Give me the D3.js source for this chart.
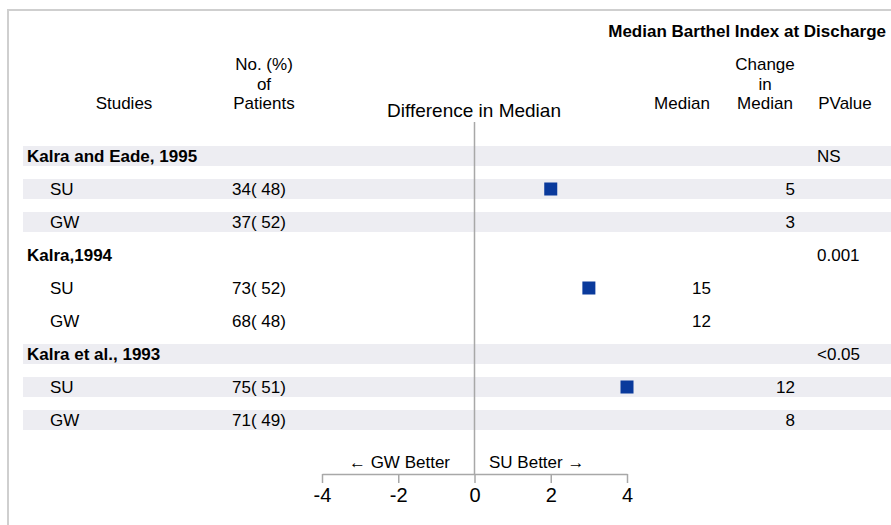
<!DOCTYPE html>
<html>
<head>
<meta charset="utf-8">
<script src="https://cdn.jsdelivr.net/npm/d3@7"></script>
<style>
  html, body { margin: 0; padding: 0; background: #fff; }
  svg { display: block; font-family: "Liberation Sans", Arial, sans-serif; }
</style>
</head>
<body>
<svg id="chart" width="891" height="525"></svg>
<script>
// Study-level data
const studyNames = ["Kalra and Eade, 1995", "Kalra,1994", "Kalra et al., 1993"];
const pValues = ["NS", "0.001", "<0.05"];
const groupLabels = ["SU", "GW"];
const suCount = [34, 73, 75];
const suPct = [48, 52, 51];
const gwCount = [37, 68, 71];
const gwPct = [52, 48, 49];
const diffMedian = [2, 3, 4];          // SU minus GW difference in median
const medianSU = [null, 15, null];
const medianGW = [null, 12, null];
const changeSU = [5, null, 12];
const changeGW = [3, null, 8];
const xTicks = [-4, -2, 0, 2, 4];

// Flatten into display rows: study header, SU row, GW row
const rows = [];
studyNames.forEach((name, i) => {
  rows.push({ type: "study", label: name, p: pValues[i], band: i % 2 === 0 });
  rows.push({ type: "group", label: groupLabels[0], n: suCount[i], pct: suPct[i],
              diff: diffMedian[i], median: medianSU[i], change: changeSU[i], band: i % 2 === 0 });
  rows.push({ type: "group", label: groupLabels[1], n: gwCount[i], pct: gwPct[i],
              diff: null, median: medianGW[i], change: changeGW[i], band: i % 2 === 0 });
});

const svg = d3.select("#chart");
const W = 891, H = 525;
const FS = 17;

const y = d3.scalePoint().domain(d3.range(rows.length)).range([156, 420]);
const rowH = 20;
const x = d3.scaleLinear().domain([-4, 4]).range([322, 627]);

// Outer frame (top and left edges)
svg.append("path")
  .attr("d", `M8,${H} L8,10 L${W},10`)
  .attr("fill", "none").attr("stroke", "#cfcfcf").attr("stroke-width", 2);

// Alternating row bands
svg.append("g").selectAll("rect")
  .data(rows.map((r, i) => ({ ...r, i })).filter(r => r.band))
  .join("rect")
  .attr("x", 23).attr("width", W - 23)
  .attr("y", d => y(d.i) - rowH / 2).attr("height", rowH)
  .attr("fill", "#ededf2");

// Title
svg.append("text")
  .attr("x", 886).attr("y", 37)
  .attr("text-anchor", "end").attr("font-weight", "bold").attr("font-size", FS)
  .text("Median Barthel Index at Discharge");

// Column headers
const hdr = svg.append("g").attr("font-size", FS).attr("fill", "#000").attr("text-anchor", "middle");
function multiLine(cx, lines, lastY, size) {
  lines.forEach((t, k) => {
    hdr.append("text").attr("x", cx).attr("y", lastY - (lines.length - 1 - k) * 19.5)
      .attr("font-size", size || FS).text(t);
  });
}
multiLine(124, ["Studies"], 109);
multiLine(264, ["No. (%)", "of", "Patients"], 109);
multiLine(474, ["Difference in Median"], 117, 19);
multiLine(682, ["Median"], 109);
multiLine(765, ["Change", "in", "Median"], 109);
multiLine(845, ["PValue"], 109);

// Reference line at zero
svg.append("line")
  .attr("x1", x(0)).attr("x2", x(0))
  .attr("y1", 122).attr("y2", 474)
  .attr("stroke", "#a8a8a8").attr("stroke-width", 1.5);

// Row text
const body = svg.append("g").attr("font-size", FS).attr("fill", "#000");
rows.forEach((r, i) => {
  const cy = y(i) + 6;
  if (r.type === "study") {
    body.append("text").attr("x", 27).attr("y", cy).attr("font-weight", "bold").text(r.label);
    body.append("text").attr("x", 817).attr("y", cy).text(r.p);
  } else {
    body.append("text").attr("x", 50).attr("y", cy).text(r.label);
    body.append("text").attr("x", 232).attr("y", cy).text(`${r.n}( ${r.pct})`);
    if (r.median != null)
      body.append("text").attr("x", 711).attr("y", cy).attr("text-anchor", "end").text(r.median);
    if (r.change != null)
      body.append("text").attr("x", 795).attr("y", cy).attr("text-anchor", "end").text(r.change);
  }
});

// Difference markers
const sq = 13;
svg.append("g").selectAll("rect")
  .data(rows.map((r, i) => ({ ...r, i })).filter(r => r.diff != null))
  .join("rect")
  .attr("x", d => x(d.diff) - sq / 2)
  .attr("y", d => y(d.i) - sq / 2)
  .attr("width", sq).attr("height", sq)
  .attr("fill", "#0a3a9c");

// Bottom axis
const axisG = svg.append("g")
  .attr("transform", "translate(0,474)")
  .call(d3.axisBottom(x).tickValues(xTicks).tickSize(9).tickPadding(5).tickSizeOuter(0)
    .tickFormat(d => String(d)));
axisG.select(".domain").attr("stroke", "#a8a8a8").attr("stroke-width", 1.5);
axisG.selectAll(".tick line").attr("stroke", "#a8a8a8").attr("stroke-width", 1.5);
axisG.selectAll(".tick text")
  .attr("font-size", 20).attr("fill", "#000")
  .attr("font-family", "'Liberation Sans', Arial, sans-serif");

// Direction labels
svg.append("text").attr("x", 450).attr("y", 468).attr("text-anchor", "end")
  .attr("font-size", FS).text("\u2190 GW Better");
svg.append("text").attr("x", 489).attr("y", 468).attr("text-anchor", "start")
  .attr("font-size", FS).text("SU Better \u2192");
</script>
</body>
</html>
